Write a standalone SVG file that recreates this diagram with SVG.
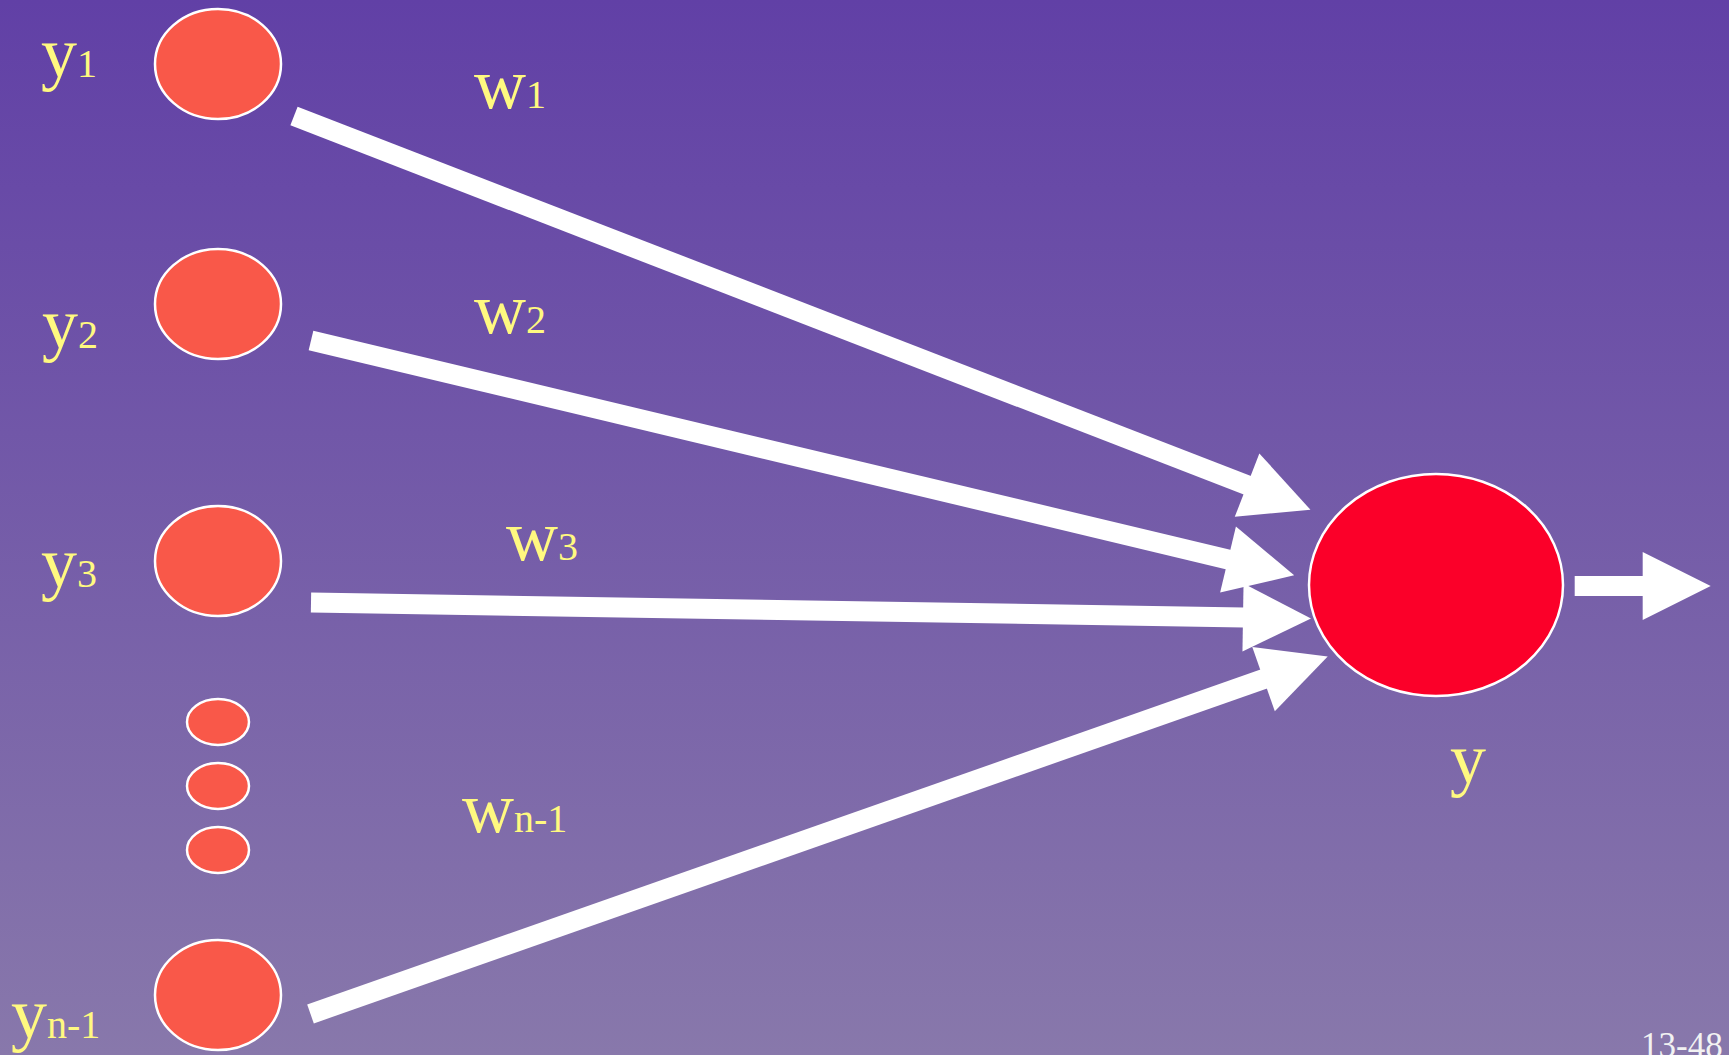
<svg xmlns="http://www.w3.org/2000/svg" width="1729" height="1055" viewBox="0 0 1729 1055">
  <defs>
    <linearGradient id="bg" x1="0" y1="0" x2="0" y2="1">
      <stop offset="0" stop-color="#6140A6"/>
      <stop offset="1" stop-color="#8878AB"/>
    </linearGradient>
    <marker id="head" markerUnits="userSpaceOnUse" viewBox="0 0 68 68" markerWidth="68" markerHeight="68" refX="1" refY="34" orient="auto" overflow="visible">
      <path d="M0,0 L68,34 L0,68 Z" fill="#FFFFFF"/>
    </marker>
  </defs>
  <style>
    .in { fill: #F95849; stroke: #FFFFFF; stroke-width: 2.5; }
    .out { fill: #FB0029; stroke: #FFFFFF; stroke-width: 2.5; }
    .edge { stroke: #FFFFFF; stroke-width: 20; fill: none; marker-end: url(#head); }
    .lbl { font-family: "Liberation Serif", "Times New Roman", serif; fill: #FFF980; }
    .big { font-size: 72px; }
    .sub { font-size: 40px; }
    .pg { font-family: "Liberation Serif", "Times New Roman", serif; font-size: 35px; fill: #F2F2F2; }
  </style>
  <rect x="0" y="0" width="1729" height="1055" fill="url(#bg)"/>

  <g id="connectors">
    <line class="edge" x1="294" y1="116" x2="1248" y2="485.5"/>
    <line class="edge" x1="311" y1="340.5" x2="1229" y2="559.7"/>
    <line class="edge" x1="311" y1="602.5" x2="1244" y2="617.5"/>
    <line class="edge" x1="310.5" y1="1014" x2="1264.5" y2="678.8"/>
    <line class="edge" x1="1574.7" y1="586" x2="1643.7" y2="586"/>
  </g>

  <g id="node-y1">
    <ellipse class="in" cx="218" cy="64" rx="63" ry="55"/>
    <text class="lbl" x="41" y="77"><tspan class="big">y</tspan><tspan class="sub">1</tspan></text>
  </g>
  <g id="node-y2">
    <ellipse class="in" cx="218" cy="304" rx="63" ry="55"/>
    <text class="lbl" x="42" y="348"><tspan class="big">y</tspan><tspan class="sub">2</tspan></text>
  </g>
  <g id="node-y3">
    <ellipse class="in" cx="218" cy="561" rx="63" ry="55"/>
    <text class="lbl" x="41" y="587"><tspan class="big">y</tspan><tspan class="sub">3</tspan></text>
  </g>
  <g id="node-dot1">
    <ellipse class="in" cx="218" cy="722" rx="31" ry="23"/>
  </g>
  <g id="node-dot2">
    <ellipse class="in" cx="218" cy="786" rx="31" ry="23"/>
  </g>
  <g id="node-dot3">
    <ellipse class="in" cx="218" cy="850" rx="31" ry="23"/>
  </g>
  <g id="node-yn1">
    <ellipse class="in" cx="218" cy="995" rx="63" ry="55"/>
    <text class="lbl" x="11" y="1038"><tspan class="big">y</tspan><tspan class="sub">n-1</tspan></text>
  </g>
  <g id="node-y">
    <ellipse class="out" cx="1436" cy="585" rx="127" ry="111"/>
    <text class="lbl big" x="1450" y="783">y</text>
  </g>

  <g id="weights">
    <text class="lbl" x="474" y="108"><tspan class="big">w</tspan><tspan class="sub">1</tspan></text>
    <text class="lbl" x="474" y="333"><tspan class="big">w</tspan><tspan class="sub">2</tspan></text>
    <text class="lbl" x="506" y="560"><tspan class="big">w</tspan><tspan class="sub">3</tspan></text>
    <text class="lbl" x="462" y="832"><tspan class="big">w</tspan><tspan class="sub">n-1</tspan></text>
  </g>

  <text class="pg" x="1641" y="1057">13-48</text>
</svg>
